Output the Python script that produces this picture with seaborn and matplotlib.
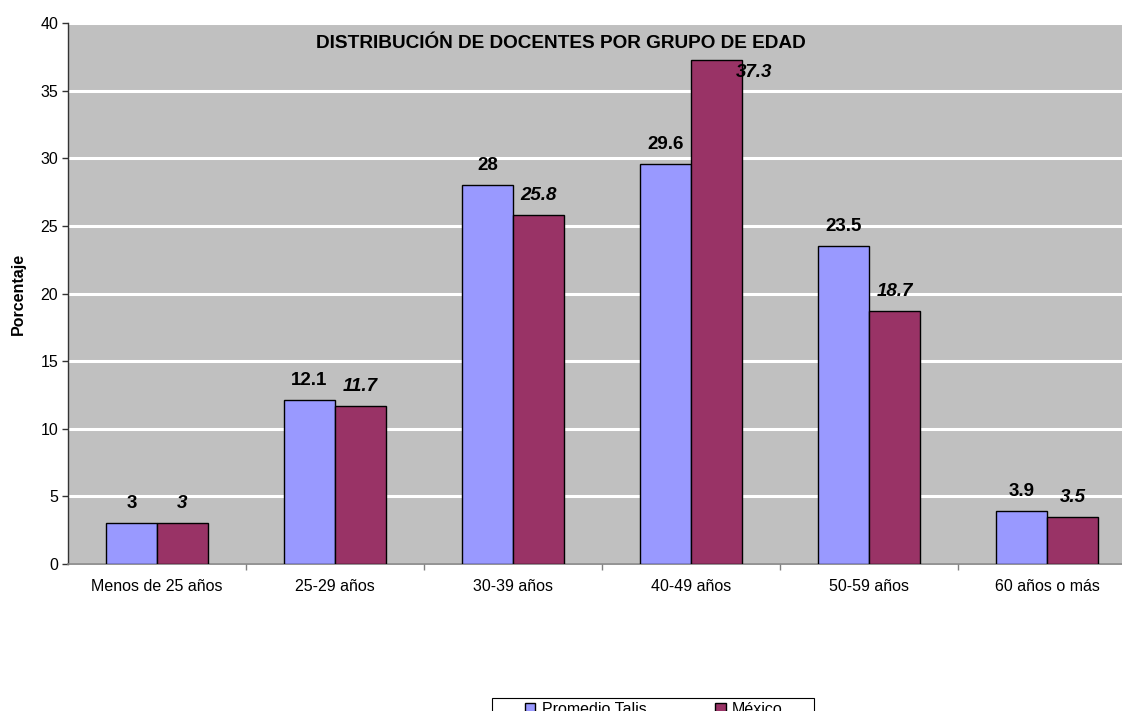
import pandas as pd
import seaborn as sns
import matplotlib.pyplot as plt
from matplotlib.patches import Rectangle
from matplotlib.ticker import MultipleLocator, FixedLocator

# --- datos ---
grupos = ['Menos de 25 años', '25-29 años', '30-39 años', '40-49 años', '50-59 años', '60 años o más']
talis = [3, 12.1, 28, 29.6, 23.5, 3.9]
mexico = [3, 11.7, 25.8, 37.3, 18.7, 3.5]
series = ['Promedio Talis', 'México']
colores = ['#9999FF', '#993366']

df = pd.DataFrame({
    'Grupo': grupos * 2,
    'Valor': talis + mexico,
    'Serie': [series[0]] * len(grupos) + [series[1]] * len(grupos),
})

sns.set_theme(style="white")
plt.rcParams['font.family'] = ['Liberation Sans', 'DejaVu Sans']
plt.rcParams['text.color'] = 'black'
plt.rcParams['axes.labelcolor'] = 'black'

W, H = 1122, 711
fig = plt.figure(figsize=(W / 100, H / 100), dpi=100)
ax = fig.add_axes([68 / W, 147 / H, (W - 68) / W, (564 - 23) / H])
ax.set_facecolor('#C0C0C0')

sns.barplot(data=df, x='Grupo', y='Valor', hue='Serie', order=grupos,
            hue_order=series, palette=colores, width=0.573,
            edgecolor='black', linewidth=1, saturation=1, ax=ax,
            legend=True, zorder=3)

# ejes
ax.set_ylim(0, 40)
ax.set_xlim(-0.5, 5.5 - 14 / 178)
ax.yaxis.set_major_locator(MultipleLocator(5))
ax.grid(axis='y', color='white', linewidth=2.2, zorder=0)
ax.set_axisbelow(True)
for s in ['top', 'right']:
    ax.spines[s].set_visible(False)
ax.spines['left'].set_color('#333333')
ax.spines['bottom'].set_color('#808080')
ax.spines['left'].set_linewidth(1)
ax.spines['bottom'].set_linewidth(1.2)

ax.tick_params(axis='y', which='major', left=True, length=4, width=1,
               color='#333333', labelsize=11.5, pad=3, labelcolor='black')
ax.tick_params(axis='x', which='major', bottom=False, length=0, labelsize=11.5,
               pad=11, labelcolor='black')
ax.xaxis.set_minor_locator(FixedLocator([i + 0.5 for i in range(5)]))
ax.tick_params(axis='x', which='minor', bottom=True, length=4, width=1,
               color='#808080')

ax.set_xlabel('')
ax.set_ylabel('Porcentaje', fontsize=11.5, fontweight='bold')
ax.yaxis.set_label_coords(-42 / (W - 68), 0.5)

# etiquetas de valores
for cont, serie in zip(ax.containers, series):
    for bar, v in zip(cont, talis if serie == series[0] else mexico):
        x = bar.get_x() + bar.get_width() / 2
        y = bar.get_height()
        txt = f'{v:g}'
        style = 'italic' if serie == 'México' else 'normal'
        if v > 35:
            ax.annotate(txt, (x, y), xytext=(27, -9), textcoords='offset points',
                        ha='center', va='center', fontsize=13.5,
                        fontweight='bold', style=style)
        else:
            ax.annotate(txt, (x, y), xytext=(0, 8), textcoords='offset points',
                        ha='center', va='bottom', fontsize=13.5,
                        fontweight='bold', style=style)

fig.text(561 / W, 1 - 43 / H, 'DISTRIBUCIÓN DE DOCENTES POR GRUPO DE EDAD',
         ha='center', va='center', fontsize=13.7, fontweight='bold')

# leyenda (recuadro aparte, como en Excel)
ax.get_legend().remove()
handles, labels = ax.get_legend_handles_labels()
fig.patches.append(Rectangle((492 / W, -0.05), 322 / W, 0.05 + (H - 698) / H,
                             transform=fig.transFigure, facecolor='white',
                             edgecolor='black', linewidth=0.8, zorder=5))
leg = fig.legend(handles, labels, loc='upper left',
                 bbox_to_anchor=(525 / W, 1 - 702 / H),
                 ncol=2, fontsize=11.5, frameon=False,
                 handlelength=0.65, handleheight=0.65, handletextpad=0.4,
                 columnspacing=4.3, borderpad=0, borderaxespad=0)
leg.set_zorder(6)
for h in leg.legend_handles:
    h.set_edgecolor('black')
    h.set_linewidth(1)

fig.savefig('out.png', dpi=100)
